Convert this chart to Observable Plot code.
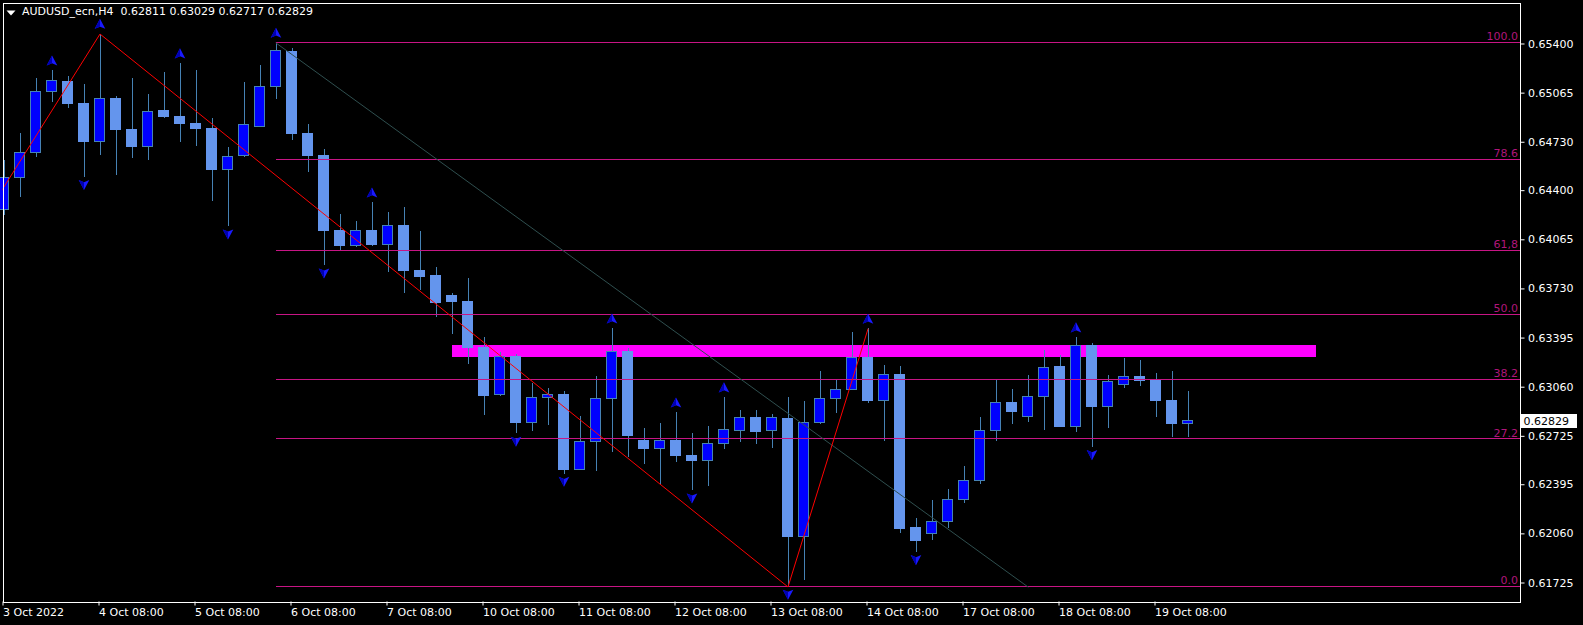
<!DOCTYPE html>
<html><head><meta charset="utf-8">
<script src="https://cdn.jsdelivr.net/npm/d3@7"></script>
<script src="https://cdn.jsdelivr.net/npm/@observablehq/plot@0.6"></script>
<style>html,body{margin:0;padding:0;background:#000;overflow:hidden;}</style>
</head><body><div id="chart"></div>
<script>
// ---- DATA (AUDUSD_ecn H4, bar index 0 = 3 Oct 2022 08:00) ----
const opens = [0.64268,0.64486,0.64657,0.65073,0.65143,0.64993,0.64729,0.65027,0.64816,0.64698,
0.64945,0.64904,0.64857,0.64823,0.64541,0.64636,0.64834,0.65107,0.65348,0.64786,
0.64638,0.64127,0.64023,0.64127,0.64030,0.64161,0.63854,0.63820,0.63684,0.63643,
0.63327,0.63007,0.63268,0.62816,0.62986,0.63007,0.62496,0.62686,0.62980,0.63300,
0.62695,0.62639,0.62695,0.62593,0.62557,0.62673,0.62759,0.62852,0.62759,0.62845,
0.62039,0.62813,0.62977,0.63041,0.63261,0.62966,0.63145,0.62102,0.62059,0.62141,
0.62291,0.62421,0.62761,0.62952,0.62857,0.62993,0.63200,0.62786,0.63343,0.62922,
0.63075,0.63130,0.63104,0.62968,0.62811];
const highs = [0.64604,0.64793,0.65168,0.65218,0.65175,0.65123,0.65468,0.65039,0.65168,0.65059,
0.65204,0.65266,0.65218,0.64889,0.64693,0.65136,0.65252,0.65407,0.65366,0.64850,
0.64679,0.64236,0.64188,0.64318,0.64250,0.64284,0.64120,0.63875,0.63698,0.63800,
0.63398,0.63295,0.63286,0.63082,0.63048,0.63029,0.62857,0.63136,0.63459,0.63321,
0.62777,0.62811,0.62886,0.62743,0.62791,0.62989,0.62900,0.62900,0.62873,0.62989,
0.62961,0.63168,0.63113,0.63432,0.63457,0.63207,0.63200,0.62164,0.62286,0.62361,
0.62518,0.62852,0.63111,0.63043,0.63139,0.63309,0.63275,0.63398,0.63355,0.63139,
0.63254,0.63241,0.63152,0.63166,0.63029];
const lows = [0.64229,0.64354,0.64627,0.65002,0.64961,0.64491,0.64638,0.64502,0.64620,0.64604,
0.64894,0.64725,0.64702,0.64325,0.64154,0.64627,0.64829,0.65020,0.64745,0.64525,
0.63888,0.63991,0.64011,0.64021,0.63843,0.63700,0.63718,0.63536,0.63420,0.63218,
0.62868,0.63000,0.62741,0.62759,0.62800,0.62468,0.62489,0.62486,0.62616,0.62581,
0.62534,0.62400,0.62547,0.62354,0.62384,0.62636,0.62684,0.62670,0.62643,0.61698,
0.61743,0.62808,0.62881,0.63036,0.62950,0.62691,0.62063,0.61934,0.62018,0.62095,
0.62264,0.62400,0.62693,0.62806,0.62820,0.62766,0.62782,0.62752,0.62650,0.62779,
0.63052,0.63066,0.62854,0.62718,0.62717];
const closes = [0.64484,0.64654,0.65073,0.65148,0.64988,0.64729,0.65025,0.64811,0.64695,0.64936,
0.64900,0.64852,0.64818,0.64538,0.64630,0.64848,0.65107,0.65352,0.64784,0.64634,
0.64122,0.64020,0.64125,0.64027,0.64159,0.63850,0.63809,0.63631,0.63638,0.63325,
0.62997,0.63266,0.62813,0.62986,0.63007,0.62493,0.62686,0.62980,0.63300,0.62725,
0.62636,0.62693,0.62588,0.62554,0.62673,0.62768,0.62850,0.62752,0.62850,0.62036,
0.62816,0.62980,0.63041,0.63259,0.62963,0.63143,0.62095,0.62009,0.62143,0.62291,
0.62421,0.62761,0.62952,0.62888,0.62993,0.63191,0.62786,0.63341,0.62922,0.63096,
0.63130,0.63100,0.62963,0.62806,0.62829];

const xTicks = [0,6,12,18,24,30,36,42,48,54,60,66,72];
const xTickLabels = ["3 Oct 2022","4 Oct 08:00","5 Oct 08:00","6 Oct 08:00","7 Oct 08:00","10 Oct 08:00",
  "11 Oct 08:00","12 Oct 08:00","13 Oct 08:00","14 Oct 08:00","17 Oct 08:00","18 Oct 08:00","19 Oct 08:00"];
const yTicks = [0.65400,0.65065,0.64730,0.64400,0.64065,0.63730,0.63395,0.63060,0.62725,0.62395,0.62060,0.61725];

// Fibonacci retracement anchors (bar index, price)
const fibAnchorIdx = [17, 64];
const fibAnchorPrice = [0.65407, 0.61698];
const fibLevels = [1, 0.786, 0.618, 0.5, 0.382, 0.272, 0];
const fibLabels = ["100.0","78.6","61,8","50.0","38.2","27.2","0.0"];

// ZigZag
const zigIdx = [-2, 6, 49, 54];
const zigPrice = [0.64079, 0.65468, 0.61698, 0.63457];

// Fractals
const fractalUp = [3, 6, 11, 17, 23, 38, 42, 45, 54, 67];
const fractalDown = [5, 14, 20, 32, 35, 43, 49, 57, 68];

// Resistance zone
const zoneIdx = [28, 82];
const zonePrice = [0.63262, 0.63347];

const symbolName = "AUDUSD_ecn,H4";

// ---- BUILD ----
const W = 1583, H = 625;
const mL = 2.5, mR = 63.5, mT = 2.5, mB = 23.5;
const barPx = 16, firstBarPx = 3.5;
const xDomain = [(mL - firstBarPx) / barPx, (W - mR - firstBarPx) / barPx];
const yDomain = [0.615955, 0.656795];

const bars = opens.map((o, i) => ({i, o, h: highs[i], l: lows[i], c: closes[i]}));
const bull = bars.filter(d => d.c >= d.o);
const bear = bars.filter(d => d.c < d.o);
const fibs = fibLevels.map((lv, k) => ({lv, label: fibLabels[k],
  p: fibAnchorPrice[1] + lv * (fibAnchorPrice[0] - fibAnchorPrice[1])}));
const fibDiag = fibAnchorIdx.map((i, k) => ({i, p: fibAnchorPrice[k]}));
const zig = zigIdx.map((i, k) => ({i, p: zigPrice[k]}));
const zone = [{x1: zoneIdx[0], x2: zoneIdx[1], y1: zonePrice[0], y2: zonePrice[1]}];

const N = 0.5; // notch depth
const arrowUp = {draw(ctx, size) { const r = Math.sqrt(size / Math.PI);
  ctx.moveTo(0, -r); ctx.lineTo(r, r * 0.9); ctx.lineTo(0, r * N); ctx.lineTo(-r, r * 0.9); ctx.closePath(); }};
const arrowUpShade = {draw(ctx, size) { const r = Math.sqrt(size / Math.PI);
  ctx.moveTo(0, -r); ctx.lineTo(0, r * N); ctx.lineTo(-r, r * 0.9); ctx.closePath(); }};
const arrowDown = {draw(ctx, size) { const r = Math.sqrt(size / Math.PI);
  ctx.moveTo(0, r); ctx.lineTo(r, -r * 0.9); ctx.lineTo(0, -r * N); ctx.lineTo(-r, -r * 0.9); ctx.closePath(); }};
const arrowDownShade = {draw(ctx, size) { const r = Math.sqrt(size / Math.PI);
  ctx.moveTo(0, r); ctx.lineTo(0, -r * N); ctx.lineTo(-r, -r * 0.9); ctx.closePath(); }};
const menuTri = {draw(ctx, size) { ctx.moveTo(-4.5, -2.5); ctx.lineTo(4.5, -2.5); ctx.lineTo(0, 2.5); ctx.closePath(); }};

const fmt5 = d3.format(".5f");
const last = bars.length - 1;
const header = symbolName + "\u00a0\u00a0" + [opens[last], highs[last], lows[last], closes[last]].map(fmt5).join(" ");

const fibColor = "#C71585";
const wick = "#4682B4";
const crisp = "crispEdges";

const chart = Plot.plot({
  width: W, height: H,
  marginLeft: mL, marginRight: mR, marginTop: mT, marginBottom: mB,
  style: {background: "#000", color: "#fff", fontFamily: "DejaVu Sans", fontSize: "11px"},
  x: {type: "linear", domain: xDomain},
  y: {type: "linear", domain: yDomain},
  marks: [
    Plot.rect(zone, {x1: "x1", x2: "x2", y1: "y1", y2: "y2", fill: "#FF00FF", shapeRendering: crisp}),
    Plot.ruleX(bars, {x: "i", y1: "l", y2: "h", stroke: wick, strokeWidth: 1, shapeRendering: crisp}),
    Plot.rect(bear, {x1: d => d.i - 0.5, x2: d => d.i + 0.5, y1: "o", y2: "c", insetLeft: 3, insetRight: 3,
      fill: "#6495ED", stroke: "#6495ED", strokeWidth: 1, shapeRendering: crisp}),
    Plot.rect(bull, {x1: d => d.i - 0.5, x2: d => d.i + 0.5, y1: "o", y2: "c", insetLeft: 3, insetRight: 3,
      fill: "#0000FF", stroke: wick, strokeWidth: 1, shapeRendering: crisp}),
    Plot.ruleY(fibs, {y: "p", x1: fibAnchorIdx[0], x2: xDomain[1], stroke: fibColor, strokeWidth: 1, shapeRendering: crisp}),
    Plot.line(fibDiag, {x: "i", y: "p", stroke: "#2F4F4F", strokeWidth: 1}),
    Plot.line(zig, {x: "i", y: "p", stroke: "#FF0000", strokeWidth: 1, clip: true}),
    Plot.text(fibs, {x: xDomain[1], y: "p", text: "label", textAnchor: "end", dx: -2, dy: -6, fill: "#B0167A"}),
    Plot.dot(fractalUp, {x: d => d, y: d => highs[d], symbol: arrowUp, r: 5.3, fill: "#1A1AFF", stroke: "none", dy: -10}),
    Plot.dot(fractalUp, {x: d => d, y: d => highs[d], symbol: arrowUpShade, r: 5.3, fill: "#0000B4", stroke: "none", dy: -10}),
    Plot.dot(fractalDown, {x: d => d, y: d => lows[d], symbol: arrowDown, r: 5.3, fill: "#1A1AFF", stroke: "none", dy: 7.5}),
    Plot.dot(fractalDown, {x: d => d, y: d => lows[d], symbol: arrowDownShade, r: 5.3, fill: "#0000B4", stroke: "none", dy: 7.5}),
    Plot.axisY(yTicks, {anchor: "right", tickSize: 4, tickPadding: 4, tickFormat: fmt5, fill: "#fff", stroke: "#fff"}),
    Plot.axisX(xTicks, {anchor: "bottom", tickSize: 4, tickPadding: 2, textAnchor: "start", dx: -1,
      tickFormat: d => xTickLabels[xTicks.indexOf(d)], fill: "#fff", stroke: "#fff"}),
    Plot.frame({stroke: "#fff", strokeWidth: 1, shapeRendering: crisp}),
    Plot.dot([0], {frameAnchor: "top-left", symbol: menuTri, r: 4, fill: "#fff", stroke: "none", dx: 8, dy: 10}),
    Plot.text([header], {frameAnchor: "top-left", dx: 19, dy: 4, lineAnchor: "top", textAnchor: "start", fill: "#fff"})
  ]
});

document.getElementById("chart").appendChild(chart);

// current price box on the price axis
const ys = chart.scale("y");
const yc = Math.round(ys.apply(closes[last]));
const svg = d3.select(chart);
const g = svg.append("g");
g.append("rect").attr("x", W - mR + 1.5).attr("y", yc - 7).attr("width", 56).attr("height", 14).attr("fill", "#fff");
g.append("text").attr("x", W - mR + 4).attr("y", yc).attr("dy", "0.35em").attr("fill", "#000")
  .attr("text-anchor", "start").attr("font-family", "DejaVu Sans").attr("font-size", 11).text(fmt5(closes[last]));
</script>
</body></html>
